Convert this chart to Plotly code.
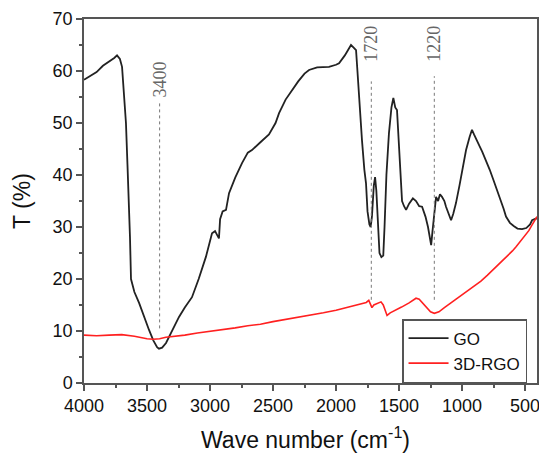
import plotly.graph_objects as go

# GO spectrum (wavenumber cm^-1, transmittance %)
go_wn = [4000, 3950, 3900, 3850, 3800, 3760, 3738, 3715, 3698, 3680, 3667, 3655, 3643, 3635, 3627,
         3600, 3563, 3520, 3484, 3450, 3420, 3405, 3380, 3349, 3300, 3246, 3200, 3143, 3090, 3032,
         2984, 2960, 2944, 2929, 2920, 2900, 2873, 2849, 2800, 2746, 2700, 2667, 2600, 2532, 2480,
         2452, 2400, 2349, 2300, 2250, 2214, 2150, 2100, 2056, 2000, 1976, 1930, 1895, 1881, 1860,
         1841, 1830, 1817, 1794, 1775, 1762, 1750, 1735, 1725, 1715, 1700, 1690, 1680, 1665, 1655,
         1640, 1625, 1615, 1600, 1580, 1560, 1545, 1530, 1516, 1500, 1485, 1476, 1460, 1444, 1420,
         1390, 1365, 1340, 1317, 1290, 1270, 1255, 1245, 1235, 1220, 1206, 1190, 1175, 1159, 1140,
         1127, 1105, 1087, 1070, 1048, 1020, 990, 968, 940, 921, 905, 881, 860, 840, 810,
         780, 750, 730, 700, 670, 651, 620, 590, 560, 524, 490, 460, 444, 405]
go_t = [58.3, 59.0, 59.8, 61.0, 61.8, 62.5, 63.0, 62.3, 60.8, 55.0, 50.0, 42.0, 35.0, 28.0, 20.0,
        17.5, 15.4, 12.5, 10.2, 8.2, 6.9, 6.6, 6.8, 7.7, 10.0, 12.7, 14.5, 16.5, 20.0, 24.3,
        28.8, 29.2, 28.5, 27.8, 31.5, 33.0, 33.3, 36.5, 39.5, 42.3, 44.3, 44.8, 46.3, 47.8, 50.0,
        51.9, 54.5, 56.3, 58.0, 59.5, 60.2, 60.7, 60.8, 60.8, 61.2, 61.5, 63.0, 64.5, 65.0, 64.5,
        64.0, 60.0, 54.4, 46.7, 41.0, 38.4, 33.0, 30.5, 30.0, 32.0, 38.0, 39.6, 37.0, 30.0, 25.0,
        24.2, 24.5, 30.0, 40.0, 48.0, 53.0, 54.8, 53.0, 52.5, 45.0, 38.0, 35.0, 34.0, 33.3, 34.5,
        35.5, 35.0, 34.0, 33.9, 32.0, 30.0, 28.0, 26.5, 29.0, 33.0, 35.8, 35.0, 36.3, 35.8, 35.0,
        33.9, 32.5, 31.3, 32.5, 34.6, 38.0, 42.0, 44.8, 47.3, 48.7, 47.8, 46.7, 45.5, 44.5, 42.9,
        41.0, 39.0, 37.7, 35.8, 33.5, 32.0, 30.8, 30.2, 29.7, 29.6, 29.8, 30.5, 31.3, 31.7]

# 3D-RGO spectrum
rgo_wn = [4000, 3900, 3800, 3700, 3600, 3550, 3500, 3450, 3400, 3350, 3300, 3200, 3100, 3000,
          2900, 2800, 2700, 2600, 2500, 2400, 2300, 2200, 2100, 2000, 1900, 1800, 1760, 1740,
          1725, 1715, 1700, 1660, 1643, 1625, 1610, 1595, 1570, 1524, 1480, 1420, 1380, 1365,
          1340, 1317, 1280, 1250, 1220, 1200, 1183, 1140, 1100, 1048, 1000, 950, 889, 850,
          800, 730, 700, 650, 600, 571, 530, 500, 470, 444, 405]
rgo_t = [9.2, 9.1, 9.2, 9.3, 9.0, 8.7, 8.5, 8.4, 8.5, 8.8, 8.9, 9.2, 9.6, 9.9,
         10.2, 10.6, 11.0, 11.3, 11.8, 12.2, 12.6, 13.0, 13.5, 14.0, 14.6, 15.2, 15.5, 15.9,
         14.8, 14.5, 15.0, 15.5, 15.6, 15.0, 13.8, 13.0, 13.5, 14.0, 14.6, 15.4, 16.0, 16.3,
         16.1, 15.5, 14.4, 13.7, 13.4, 13.5, 13.7, 14.5, 15.2, 16.0, 16.8, 17.8, 18.8, 19.6,
         20.7, 22.3, 23.0, 24.3, 25.4, 26.2, 27.4, 28.3, 29.3, 30.4, 32.0]

# Marked bands
band_wn = [3400, 1720, 1220]
band_labels = ["3400", "1720", "1220"]
band_low = [10.5, 16, 16]
band_high = [53.8, 58, 59]
band_label_y = [58.3, 65.3, 65.3]

x_ticks = [4000, 3500, 3000, 2500, 2000, 1500, 1000, 500]
y_ticks = [0, 10, 20, 30, 40, 50, 60, 70]

fig = go.Figure()
fig.add_trace(go.Scatter(x=go_wn, y=go_t, mode="lines", name="GO",
                         line=dict(color="#222222", width=1.8)))
fig.add_trace(go.Scatter(x=rgo_wn, y=rgo_t, mode="lines", name="3D-RGO",
                         line=dict(color="#ff2020", width=1.6)))

for wn, lo, hi, lab, ly in zip(band_wn, band_low, band_high, band_labels, band_label_y):
    fig.add_shape(type="line", x0=wn, x1=wn, y0=lo, y1=hi, xref="x", yref="y",
                  line=dict(color="#777777", width=1, dash="dot"))
    fig.add_annotation(x=wn, y=ly, text=lab, showarrow=False, textangle=-90,
                       xref="x", yref="y",
                       font=dict(family="Liberation Serif", size=18, color="#666666"))

axis_common = dict(showline=True, linecolor="#555555", linewidth=1.5, mirror=True,
                   ticks="outside", ticklen=6, tickwidth=1.5, tickcolor="#555555",
                   showgrid=False, zeroline=False, automargin=False,
                   tickfont=dict(family="Liberation Sans", size=18, color="#111111"))

fig.update_xaxes(range=[4000, 405], tickvals=x_ticks,
                 minor=dict(ticks="outside", ticklen=3, tickwidth=1.5, tickcolor="#555555", dtick=250, tick0=0),
                 **axis_common)
fig.update_yaxes(range=[0, 70], tickvals=y_ticks,
                 minor=dict(ticks="outside", ticklen=3, tickwidth=1.5, tickcolor="#555555", dtick=5, tick0=0),
                 **axis_common)

# Axis titles
fig.add_annotation(x=0.49, y=-0.152, xref="paper", yref="paper", yanchor="middle",
                   text="Wave number (cm<sup>-1</sup>)", showarrow=False,
                   font=dict(family="Liberation Sans", size=23, color="#111111"))
fig.add_annotation(x=-0.137, y=0.5, xref="paper", yref="paper", xanchor="center",
                   text="T (%)", showarrow=False, textangle=-90,
                   font=dict(family="Liberation Sans", size=23, color="#111111"))

# The page body adds an 8 px margin, so the figure is sized to fit the window.
fig.update_layout(
    width=539, height=446,
    margin=dict(l=76, r=10, t=11, b=71),
    paper_bgcolor="white", plot_bgcolor="white",
    showlegend=True,
    legend=dict(x=0.978, y=0.0, xanchor="right", yanchor="bottom",
                bgcolor="white", bordercolor="#555555", borderwidth=1.5,
                font=dict(family="Liberation Sans", size=17, color="#111111"),
                tracegroupgap=0, itemwidth=40),
)

fig.write_html("out.html")
